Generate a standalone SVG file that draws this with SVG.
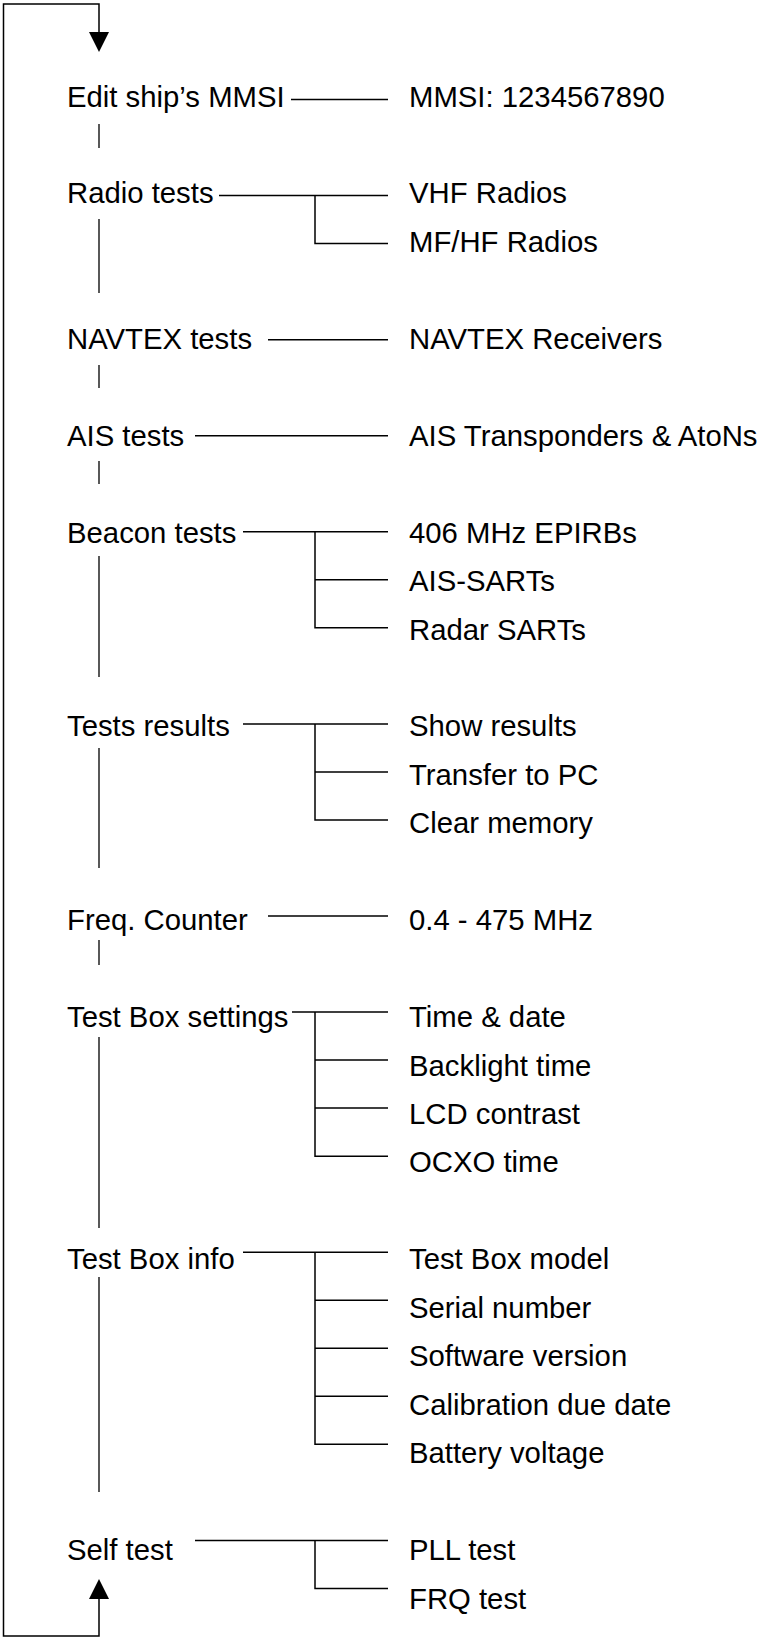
<svg xmlns="http://www.w3.org/2000/svg" width="761" height="1637" viewBox="0 0 761 1637">
<style>
text{font-family:"Liberation Sans",Arial,sans-serif;font-size:29.3px;fill:#000}
.c{fill:none;stroke:#000;stroke-width:1.5}
.v{fill:none;stroke:#000;stroke-width:1.3}
.ah{fill:#000}
</style>
<rect width="761" height="1637" fill="#fff"/>
<g id="connectors">
<path class="c" d="M99,32 V4 H3.5 V1636 H99 V1599"/>
<polygon class="ah" points="89,32 109,32 99,52"/>
<polygon class="ah" points="89,1599 109,1599 99,1579"/>
<path class="v" d="M99,124 V148 M99,219 V293 M99,365 V388 M99,461 V484 M99,556 V677 M99,748 V868 M99,940 V965 M99,1037 V1228 M99,1277 V1492"/>
<path class="c" d="M291,99.5 H388"/>
<path class="c" d="M219,195.6 H388 M315,195.6 V243.6 H388"/>
<path class="c" d="M268,339.7 H388"/>
<path class="c" d="M195,435.7 H388"/>
<path class="c" d="M243,531.8 H388 M315,531.8 V627.8 H388 M315,579.8 H388"/>
<path class="c" d="M243,723.9 H388 M315,723.9 V820 H388 M315,771.9 H388"/>
<path class="c" d="M268,916 H388"/>
<path class="c" d="M292,1012.1 H388 M315,1012.1 V1156.2 H388 M315,1060.1 H388 M315,1108.1 H388"/>
<path class="c" d="M243,1252.2 H388 M315,1252.2 V1444.3 H388 M315,1300.3 H388 M315,1348.3 H388 M315,1396.3 H388"/>
<path class="c" d="M195,1540.4 H388 M315,1540.4 V1588.4 H388"/>
</g>
<g id="n-mmsi"><text x="67" y="106.5">Edit ship’s MMSI</text></g>
<g id="n-mmsi-val"><text x="409" y="106.5">MMSI: 1234567890</text></g>
<g id="n-radio"><text x="67" y="203.4">Radio tests</text></g>
<g id="n-vhf"><text x="409" y="203.4">VHF Radios</text></g>
<g id="n-mfhf"><text x="409" y="251.9">MF/HF Radios</text></g>
<g id="n-navtex"><text x="67" y="348.8">NAVTEX tests</text></g>
<g id="n-navtex-rx"><text x="409" y="348.8">NAVTEX Receivers</text></g>
<g id="n-ais"><text x="67" y="445.7">AIS tests</text></g>
<g id="n-ais-tx"><text x="409" y="445.7">AIS Transponders &amp; AtoNs</text></g>
<g id="n-beacon"><text x="67" y="542.6">Beacon tests</text></g>
<g id="n-epirb"><text x="409" y="542.6">406 MHz EPIRBs</text></g>
<g id="n-aissart"><text x="409" y="591">AIS-SARTs</text></g>
<g id="n-radarsart"><text x="409" y="639.5">Radar SARTs</text></g>
<g id="n-results"><text x="67" y="736.4">Tests results</text></g>
<g id="n-show"><text x="409" y="736.4">Show results</text></g>
<g id="n-transfer"><text x="409" y="784.8">Transfer to PC</text></g>
<g id="n-clear"><text x="409" y="833.3">Clear memory</text></g>
<g id="n-freq"><text x="67" y="930.2">Freq. Counter</text></g>
<g id="n-freq-range"><text x="409" y="930.2">0.4 - 475 MHz</text></g>
<g id="n-settings"><text x="67" y="1027.1">Test Box settings</text></g>
<g id="n-time"><text x="409" y="1027.1">Time &amp; date</text></g>
<g id="n-backlight"><text x="409" y="1075.5">Backlight time</text></g>
<g id="n-lcd"><text x="409" y="1124">LCD contrast</text></g>
<g id="n-ocxo"><text x="409" y="1172.4">OCXO time</text></g>
<g id="n-info"><text x="67" y="1269.3">Test Box info</text></g>
<g id="n-model"><text x="409" y="1269.3">Test Box model</text></g>
<g id="n-serial"><text x="409" y="1317.8">Serial number</text></g>
<g id="n-software"><text x="409" y="1366.2">Software version</text></g>
<g id="n-calib"><text x="409" y="1414.7">Calibration due date</text></g>
<g id="n-battery"><text x="409" y="1463.1">Battery voltage</text></g>
<g id="n-self"><text x="67" y="1560">Self test</text></g>
<g id="n-pll"><text x="409" y="1560">PLL test</text></g>
<g id="n-frq"><text x="409" y="1608.5">FRQ test</text></g>
</svg>
